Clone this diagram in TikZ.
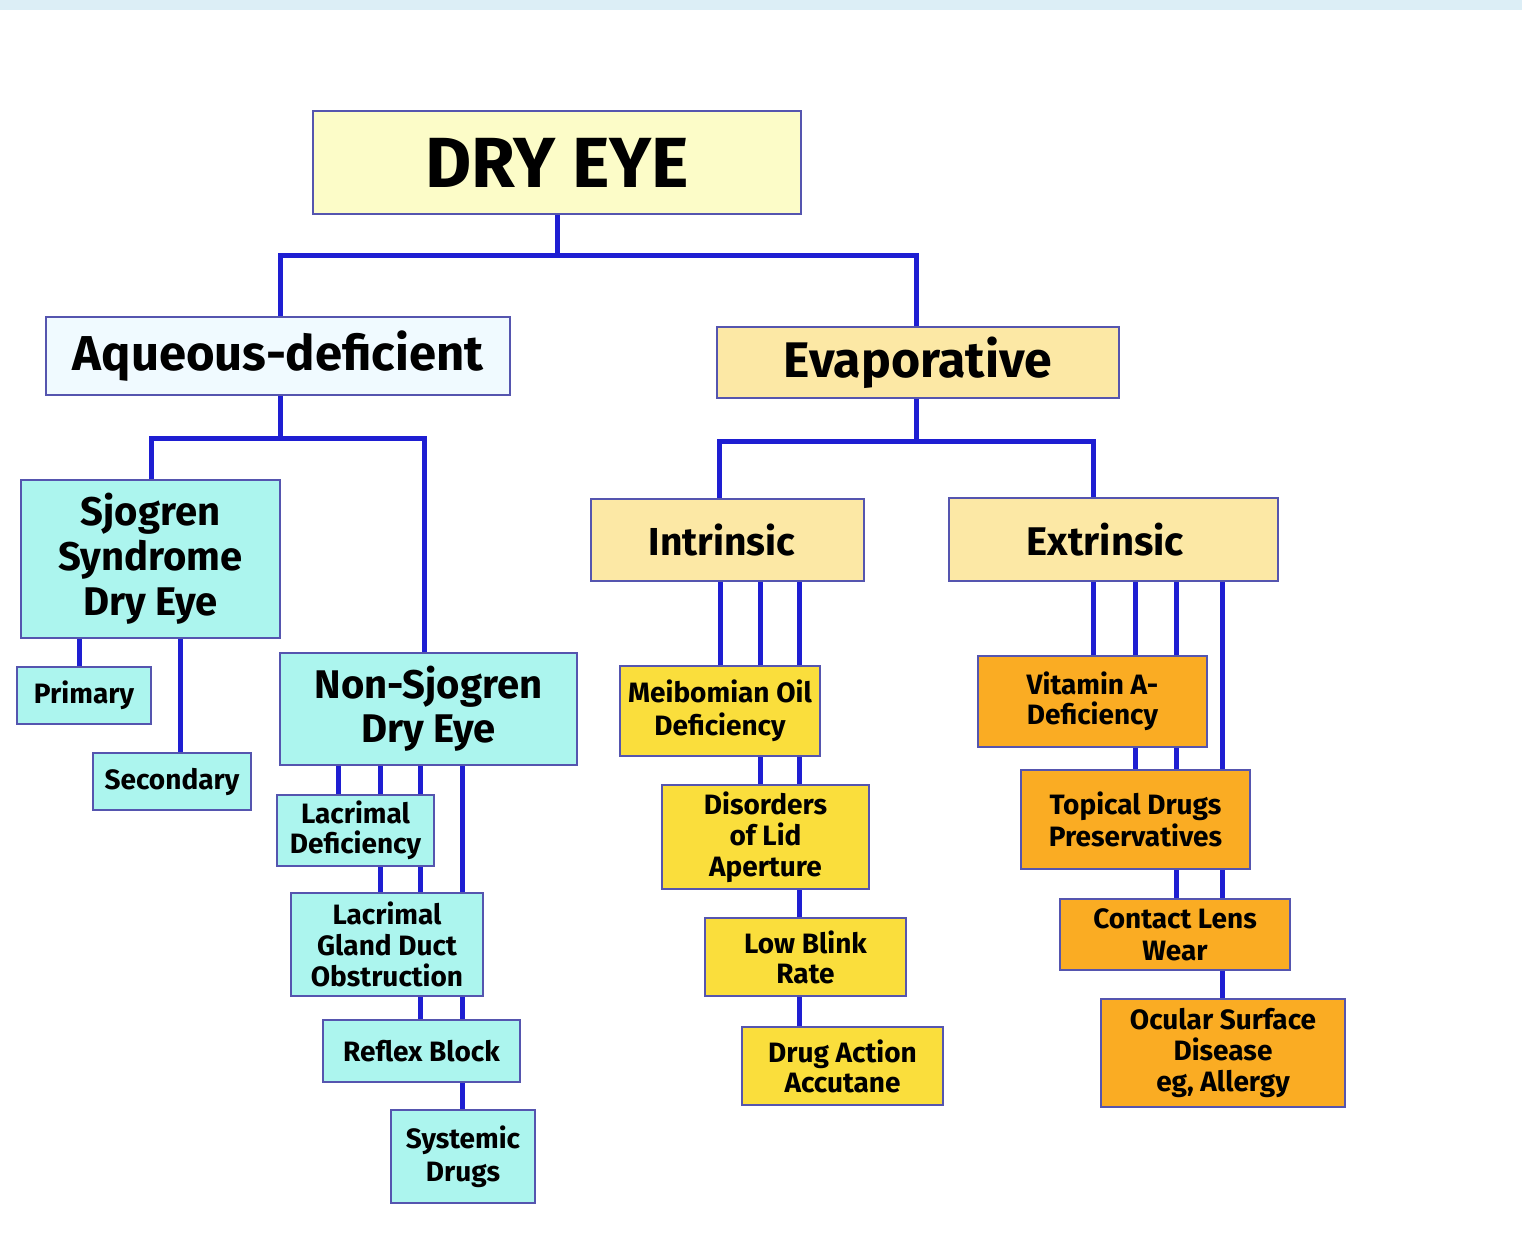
\documentclass[tikz,border=0pt]{standalone}
\usepackage{fontspec}
\setmainfont{Fira Sans}
\usetikzlibrary{backgrounds}
\definecolor{boxline}{RGB}{85,85,175}
\definecolor{connblue}{RGB}{30,30,210}
\definecolor{palebox}{RGB}{252,252,200}
\definecolor{aqbox}{RGB}{240,250,255}
\definecolor{tanbox}{RGB}{252,232,165}
\definecolor{cyanbox}{RGB}{172,245,238}
\definecolor{goldbox}{RGB}{250,222,60}
\definecolor{orangebox}{RGB}{250,172,35}
\definecolor{topband}{RGB}{220,238,246}
\newcommand\fsz[2]{\fontsize{#1}{#2}\selectfont\bfseries}
\tikzset{
  box/.style={draw=boxline, line width=2.5pt, inner sep=0pt, align=center},
  conn/.style={draw=connblue, line width=5pt},
}
\begin{document}
\begin{tikzpicture}[x=1pt,y=-1pt]
\useasboundingbox (0,0) rectangle (1522,1243);
\fill[topband] (0,0) rectangle (1522,10);

% level 0-1
\node[box, fill=palebox, minimum width=488, minimum height=103, font=\fsz{71}{74}] (dry) at (557,162.5) {DRY EYE};
\node[box, fill=aqbox, minimum width=464, minimum height=78, font=\fsz{49}{52}] (aq) at (278,356) {Aqueous-deficient};
\node[box, fill=tanbox, minimum width=402, minimum height=71, font=\fsz{50}{52}] (evap) at (918,362.5) {Evaporative};

% aqueous branch
\node[box, fill=cyanbox, minimum width=259, minimum height=158, font=\fsz{40}{45}] (sjo) at (150.5,559) {Sjogren\\Syndrome\\Dry Eye};
\node[box, fill=cyanbox, minimum width=134, minimum height=57, font=\fsz{28}{31}] (prim) at (84,695.5) {Primary};
\node[box, fill=cyanbox, minimum width=158, minimum height=57, font=\fsz{28}{31}] (sec) at (172,781.5) {Secondary};
\node[box, fill=cyanbox, minimum width=297, minimum height=112, font=\fsz{40}{44}] (nsj) at (428.5,709) {Non-Sjogren\\Dry Eye};
\node[box, fill=cyanbox, minimum width=157, minimum height=71, font=\fsz{28}{30}] (lacdef) at (355.5,830.5) {Lacrimal\\Deficiency};
\node[box, fill=cyanbox, minimum width=192, minimum height=103, font=\fsz{28}{31}] (lacgl) at (387,944.5) {Lacrimal\\Gland Duct\\Obstruction};
\node[box, fill=cyanbox, minimum width=197, minimum height=62, font=\fsz{28}{31}] (refl) at (421.5,1051) {Reflex Block};
\node[box, fill=cyanbox, minimum width=144, minimum height=93, font=\fsz{28}{33}] (sysd) at (463,1156.5) {Systemic\\Drugs};

% evaporative branch
\node[box, fill=tanbox, minimum width=273, minimum height=82, font=\fsz{39}{44}] (intr) at (727.5,540) {Intrinsic\hspace*{11pt}};
\node[box, fill=tanbox, minimum width=329, minimum height=83, font=\fsz{40}{44}] (extr) at (1113.5,539.5) {Extrinsic\hspace*{16pt}};
\node[box, fill=goldbox, minimum width=200, minimum height=90, font=\fsz{28}{33}] (meib) at (720,711) {Meibomian Oil\\Deficiency};
\node[box, fill=goldbox, minimum width=207, minimum height=104, font=\fsz{28}{31}] (lid) at (765.5,837) {Disorders\\of Lid\\Aperture};
\node[box, fill=goldbox, minimum width=201, minimum height=78, font=\fsz{28}{30}] (blink) at (805.5,957) {Low Blink\\Rate};
\node[box, fill=goldbox, minimum width=201, minimum height=78, font=\fsz{28}{30}] (drug) at (842.5,1066) {Drug Action\\Accutane};
\node[box, fill=orangebox, minimum width=229, minimum height=91, font=\fsz{28}{30}] (vita) at (1092.5,701.5) {Vitamin A-\\Deficiency};
\node[box, fill=orangebox, minimum width=229, minimum height=99, font=\fsz{28}{32}] (topic) at (1135.5,819.5) {Topical Drugs\\Preservatives};
\node[box, fill=orangebox, minimum width=230, minimum height=71, font=\fsz{28}{32}] (lens) at (1175,934.5) {Contact Lens\\Wear};
\node[box, fill=orangebox, minimum width=244, minimum height=108, font=\fsz{28}{31}] (ocul) at (1223,1053) {Ocular Surface\\Disease\\eg, Allergy};

% x positions of the vertical connector lines
\foreach \xx in {79,151,180,280,338,380,420,424,462,719,720,760,799,916,1093,1135,1176,1222}
  \coordinate (x\xx) at (\xx,0);

\begin{scope}[on background layer]
  \draw[conn] (dry.south) -- ++(0,40) -| (aq.north -| x280);
  \draw[conn] (dry.south) -- ++(0,40) -| (evap.north -| x916);
  \draw[conn] (aq.south -| x280) -- ++(0,42) -| (sjo.north -| x151);
  \draw[conn] (aq.south -| x280) -- ++(0,42) -| (nsj.north -| x424);
  \draw[conn] (evap.south -| x916) -- ++(0,42) -| (intr.north -| x719);
  \draw[conn] (evap.south -| x916) -- ++(0,42) -| (extr.north -| x1093);
  \draw[conn] (sjo.south -| x79) -- (prim.north -| x79);
  \draw[conn] (sjo.south -| x180) -- (sec.north -| x180);
  \draw[conn] (nsj.south -| x338) -- (lacdef.north -| x338);
  \draw[conn] (nsj.south -| x380) -- (lacgl.north -| x380);
  \draw[conn] (nsj.south -| x420) -- (refl.north -| x420);
  \draw[conn] (nsj.south -| x462) -- (sysd.north -| x462);
  \draw[conn] (intr.south -| x720) -- (meib.north -| x720);
  \draw[conn] (intr.south -| x760) -- (lid.north -| x760);
  \draw[conn] (intr.south -| x799) -- (blink.north -| x799);
  \draw[conn] (intr.south -| x799) -- (drug.north -| x799);
  \draw[conn] (extr.south -| x1093) -- (vita.north -| x1093);
  \draw[conn] (extr.south -| x1135) -- (topic.north -| x1135);
  \draw[conn] (extr.south -| x1176) -- (lens.north -| x1176);
  \draw[conn] (extr.south -| x1222) -- (ocul.north -| x1222);
\end{scope}
\end{tikzpicture}
\end{document}
